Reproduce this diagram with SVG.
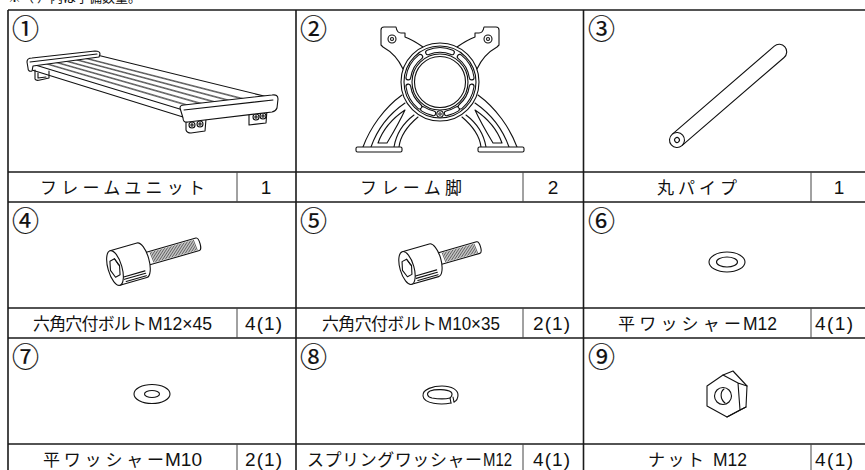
<svg xmlns="http://www.w3.org/2000/svg" width="865" height="470" viewBox="0 0 865 470">
<style>
.bg{fill:#fff}
.grid{stroke:#1a1a1a;stroke-width:1.6;fill:none}
.hgrid{stroke:#1a1a1a;stroke-width:1.4;fill:none}
.qty{stroke:#444;stroke-width:1;fill:none}
.num{font-family:"Noto Sans CJK JP","DejaVu Sans",sans-serif;font-size:27px;fill:#111;stroke:#111;stroke-width:0.2;dominant-baseline:central}
.lbl{font-family:"Noto Sans CJK JP","Noto Sans",sans-serif;font-size:17px;fill:#111}
.lat{font-family:"Liberation Sans","Noto Sans",sans-serif;font-size:19px;fill:#111}
.mid{text-anchor:middle}
.top{font-family:"Noto Sans CJK JP",sans-serif;font-size:13px;fill:#111}
.ln{stroke:#111;stroke-width:1.1;fill:none;stroke-linejoin:round;stroke-linecap:round}
.lw{stroke:#111;stroke-width:1.1;fill:#fff;stroke-linejoin:round}
.th{stroke:#111;stroke-width:0.6;fill:none}
.slotB{stroke:#111;stroke-width:5.8;fill:none;stroke-linecap:round}
.slotW{stroke:#fff;stroke-width:3.6;fill:none;stroke-linecap:round}
</style>
<defs>
<g id="legHalf">
<path class="lw" d="M403,69 C398,58 392,52 383,47 L381,45 L381,30 Q381,27 384,27 L396,27 Q397,33 401,33 L405,33 L405,37 Q413,40 423,47 Z"/>
<circle class="ln" cx="392" cy="39" r="4"/>
<circle class="ln" cx="392" cy="39" r="1.5"/>
<path class="ln" d="M363,147 C370,128 384,108 402,95"/>
<path class="ln" d="M371,147 C377,130 389,114 405,103"/>
<path class="ln" d="M378,143 C383,129 393,118 405,110 C400,121 393,133 387,143 Z"/>
<path class="ln" d="M394,147 C396,135 402,124 414,115"/>
<path class="ln" d="M399,147 C400,138 405,128 418,117"/>
<rect class="lw" x="356" y="147" width="46" height="5" rx="1.5"/>
</g>
</defs>
<rect class="bg" x="0" y="0" width="865" height="470"/>
<text class="top" x="8" y="1.5">※（ ）内は予備数量。</text>

<g id="grid">
<line class="hgrid" x1="8" y1="10" x2="866" y2="10"/>
<line class="hgrid" x1="8" y1="172" x2="866" y2="172"/>
<line class="hgrid" x1="8" y1="202" x2="866" y2="202"/>
<line class="hgrid" x1="8" y1="308" x2="866" y2="308"/>
<line class="hgrid" x1="8" y1="338" x2="866" y2="338"/>
<line class="hgrid" x1="8" y1="444" x2="866" y2="444"/>
<line class="grid" x1="8" y1="10" x2="8" y2="472"/>
<line class="grid" x1="296" y1="10" x2="296" y2="472"/>
<line class="grid" x1="583.5" y1="10" x2="583.5" y2="472"/>
<line class="grid" x1="866" y1="10" x2="866" y2="472"/>
<line class="qty" x1="237" y1="172" x2="237" y2="202"/>
<line class="qty" x1="523" y1="172" x2="523" y2="202"/>
<line class="qty" x1="811" y1="172" x2="811" y2="202"/>
<line class="qty" x1="237" y1="308" x2="237" y2="338"/>
<line class="qty" x1="523" y1="308" x2="523" y2="338"/>
<line class="qty" x1="811" y1="308" x2="811" y2="338"/>
<line class="qty" x1="237" y1="444" x2="237" y2="472"/>
<line class="qty" x1="523" y1="444" x2="523" y2="472"/>
<line class="qty" x1="811" y1="444" x2="811" y2="472"/>
</g>

<g id="item1">
<text class="num" x="12" y="27.5">①</text>
<path class="ln" d="M35,70 L35,79 Q36,81 40,80 L49,78 L49,71"/>
<path class="ln" d="M38,73 L38,78 L46,77"/>
<path class="lw" d="M32,64 L97,55 L268,97 L183,110 Z"/>
<path class="ln" d="M32,64 L32,70 L183,117 L183,110"/>
<path class="th" d="M41.8,62.7 L195.8,108.1 M43.3,62.5 L197.7,107.8"/>
<path class="th" d="M51.5,61.3 L208.5,106.1 M53,61.1 L210.4,105.8"/>
<path class="th" d="M61.3,60 L221.3,104.2 M62.8,59.8 L223.2,103.9"/>
<path class="th" d="M71,58.6 L234,102.2 M72.5,58.4 L235.9,101.9"/>
<path class="th" d="M80.8,57.3 L246.8,100.2 M82.3,57.1 L248.7,99.9"/>
<path class="lw" d="M27,62 Q27,58 32,58 L95,51 Q100,51 100,54 L99,57 L33,66 L32,71 Q28,72 28,68 Z"/>
<path class="ln" d="M30,62 L97,54"/>
<path class="lw" d="M186,118 L186,130 Q187,133 191,133 L205,131 L206,119"/>
<circle class="ln" cx="192" cy="125" r="3"/><circle class="ln" cx="192" cy="125" r="1.1"/>
<circle class="ln" cx="200" cy="124" r="3"/><circle class="ln" cx="200" cy="124" r="1.1"/>
<path class="lw" d="M249,111 L249,125 L266,123 L267,110"/>
<circle class="ln" cx="256" cy="117" r="3"/><circle class="ln" cx="256" cy="117" r="1.1"/>
<circle class="ln" cx="263" cy="116" r="3"/><circle class="ln" cx="263" cy="116" r="1.1"/>
<path class="lw" d="M180,108 Q180,105 184,105 L272,95 Q278,94 278,99 L277,108 Q276,111 272,112 L188,122 Q183,123 183,118 Z"/>
<path class="ln" d="M184,110 L273,100"/>
<text class="lbl mid" x="122.5" y="194" textLength="165" lengthAdjust="spacing">フレームユニット</text>
<text class="lat mid" x="266" y="194">1</text>
</g>

<g id="item2">
<text class="num" x="300" y="27.5">②</text>
<use href="#legHalf"/>
<use href="#legHalf" transform="translate(880,0) scale(-1,1)"/>
<circle class="lw" cx="440" cy="82" r="39"/>
<circle class="ln" cx="440" cy="82" r="36"/>
<path class="slotB" d="M428.01,52.33 A32,32 0 0 1 451.99,52.33 M459.7,56.78 A32,32 0 0 1 471.69,77.55 M471.69,86.45 A32,32 0 0 1 460.57,106.51 M419.43,106.51 A32,32 0 0 1 408.31,86.45 M408.31,77.55 A32,32 0 0 1 420.3,56.78 M456.96,109.14 A32,32 0 0 1 446.65,113.3 M433.35,113.3 A32,32 0 0 1 423.04,109.14"/>
<path class="slotW" d="M428.01,52.33 A32,32 0 0 1 451.99,52.33 M459.7,56.78 A32,32 0 0 1 471.69,77.55 M471.69,86.45 A32,32 0 0 1 460.57,106.51 M419.43,106.51 A32,32 0 0 1 408.31,86.45 M408.31,77.55 A32,32 0 0 1 420.3,56.78 M456.96,109.14 A32,32 0 0 1 446.65,113.3 M433.35,113.3 A32,32 0 0 1 423.04,109.14"/>
<circle class="ln" cx="440" cy="82" r="28"/>
<circle class="ln" cx="440" cy="82" r="25.5"/>
<circle class="lw" cx="440" cy="114" r="3.2"/>
<circle class="ln" cx="440" cy="114" r="1.2"/>
<text class="lbl mid" x="411" y="194" textLength="102" lengthAdjust="spacing">フレーム脚</text>
<text class="lat mid" x="553" y="194">2</text>
</g>

<g id="item3">
<text class="num" x="588" y="27.5">③</text>
<g transform="translate(677,140) rotate(-40.8)">
<path class="lw" d="M0,-7.5 L135,-7.5 A7.5,7.5 0 0 1 135,7.5 L0,7.5"/>
<circle class="lw" cx="0" cy="0" r="7.5"/>
<circle class="ln" cx="0" cy="0" r="2.4"/>
</g>
<text class="lbl mid" x="697" y="194" textLength="80" lengthAdjust="spacing">丸パイプ</text>
<text class="lat mid" x="839" y="194">1</text>
</g>

<g id="item4">
<text class="num" x="12" y="219.5">④</text>
<g transform="translate(115,268) rotate(-16)">
<path class="lw" d="M34.5,-6.5 L86,-6.5 A2.5,6.5 0 0 1 86,6.5 L34.5,6.5"/>
<path class="th" d="M38,-5.5 l1,11 M39.5,-5.5 l1,11 M41,-5.5 l1,11 M42.5,-5.5 l1,11 M44,-5.5 l1,11 M45.5,-5.5 l1,11 M47,-5.5 l1,11 M48.5,-5.5 l1,11 M50,-5.5 l1,11 M51.5,-5.5 l1,11 M53,-5.5 l1,11 M54.5,-5.5 l1,11 M56,-5.5 l1,11 M57.5,-5.5 l1,11 M59,-5.5 l1,11 M60.5,-5.5 l1,11 M62,-5.5 l1,11 M63.5,-5.5 l1,11 M65,-5.5 l1,11 M66.5,-5.5 l1,11 M68,-5.5 l1,11 M69.5,-5.5 l1,11 M71,-5.5 l1,11 M72.5,-5.5 l1,11 M74,-5.5 l1,11 M75.5,-5.5 l1,11 M77,-5.5 l1,11 M78.5,-5.5 l1,11 M80,-5.5 l1,11 M81.5,-5.5 l1,11 M83,-5.5 l1,11"/>
<path class="lw" d="M0,-18 L28,-18 A7,18 0 0 1 28,18 L0,18 Z"/>
<path class="ln" d="M5,11 L28,11 M6,13.5 L28,13.5 M7,16 L28,16"/>
<ellipse class="lw" cx="0" cy="0" rx="7" ry="18"/>
<path class="ln" d="M-3,-8 L2,-9 L5,-1 L3,8 L-2,9 L-5,1 Z"/>
<path class="ln" d="M2,-9 L4,-3 L5,-1"/>
</g>
<text class="lbl" x="33" y="330" textLength="114" lengthAdjust="spacing">六角穴付ボルト</text>
<text class="lat" x="148" y="330" textLength="64" lengthAdjust="spacingAndGlyphs">M12×45</text>
<text class="lat" x="245" y="330" textLength="37" lengthAdjust="spacing">4(1)</text>
</g>

<g id="item5">
<text class="num" x="300" y="219.5">⑤</text>
<g transform="translate(407,268) rotate(-16)">
<path class="lw" d="M34.5,-6 L74,-6 A2.5,6 0 0 1 74,6 L34.5,6"/>
<path class="th" d="M38,-5 l1,10 M39.5,-5 l1,10 M41,-5 l1,10 M42.5,-5 l1,10 M44,-5 l1,10 M45.5,-5 l1,10 M47,-5 l1,10 M48.5,-5 l1,10 M50,-5 l1,10 M51.5,-5 l1,10 M53,-5 l1,10 M54.5,-5 l1,10 M56,-5 l1,10 M57.5,-5 l1,10 M59,-5 l1,10 M60.5,-5 l1,10 M62,-5 l1,10 M63.5,-5 l1,10 M65,-5 l1,10 M66.5,-5 l1,10 M68,-5 l1,10 M69.5,-5 l1,10 M71,-5 l1,10"/>
<path class="lw" d="M0,-17 L28,-17 A7,17 0 0 1 28,17 L0,17 Z"/>
<path class="ln" d="M5,10 L28,10 M6,12.5 L28,12.5 M7,15 L28,15"/>
<ellipse class="lw" cx="0" cy="0" rx="7" ry="17"/>
<path class="ln" d="M-3,-7.5 L2,-8.5 L5,-1 L3,7.5 L-2,8.5 L-5,1 Z"/>
<path class="ln" d="M2,-8.5 L4,-3 L5,-1"/>
</g>
<text class="lbl" x="322" y="330" textLength="115" lengthAdjust="spacing">六角穴付ボルト</text>
<text class="lat" x="438" y="330" textLength="62" lengthAdjust="spacingAndGlyphs">M10×35</text>
<text class="lat" x="533" y="330" textLength="37" lengthAdjust="spacing">2(1)</text>
</g>

<g id="item6">
<text class="num" x="588" y="219.5">⑥</text>
<ellipse class="ln" cx="727" cy="262" rx="18" ry="10"/>
<ellipse class="ln" cx="727" cy="262" rx="10.5" ry="5"/>
<text class="lbl" x="618" y="330" textLength="123" lengthAdjust="spacing">平ワッシャー</text>
<text class="lat" x="743" y="330" textLength="34" lengthAdjust="spacingAndGlyphs">M12</text>
<text class="lat" x="815" y="330" textLength="38" lengthAdjust="spacing">4(1)</text>
</g>

<g id="item7">
<text class="num" x="12" y="355.5">⑦</text>
<ellipse class="ln" cx="152" cy="394" rx="18" ry="9.5"/>
<ellipse class="ln" cx="152" cy="394" rx="7.5" ry="3.5"/>
<text class="lbl" x="43" y="466" textLength="121" lengthAdjust="spacing">平ワッシャー</text>
<text class="lat" x="165" y="466" textLength="37" lengthAdjust="spacingAndGlyphs">M10</text>
<text class="lat" x="245" y="466" textLength="37" lengthAdjust="spacing">2(1)</text>
</g>

<g id="item8">
<text class="num" x="300" y="355.5">⑧</text>
<path class="ln" d="M451,403 C441,405 424,404 423,396 C422,389 434,386 442,386 C452,386 458,390 458,395 C458,399 456,401 454,402"/>
<path class="ln" d="M450,398 C446,399 438,399 432,398 C427,397 426,393 430,391 C435,389 447,389 451,392 C453,394 452,396 450,398"/>
<path class="ln" d="M450,398 L451,403 M453,397 L454,402"/>
<text class="lbl" x="307" y="466" textLength="175" lengthAdjust="spacing">スプリングワッシャー</text>
<text class="lat" x="483" y="466" textLength="29" lengthAdjust="spacingAndGlyphs">M12</text>
<text class="lat" x="533" y="466" textLength="37" lengthAdjust="spacing">4(1)</text>
</g>

<g id="item9">
<text class="num" x="588" y="355.5">⑨</text>
<path class="lw" d="M723,375 L733,371 L747,386 L746,407 L727,417 L707,406 L707,386 Z"/>
<path class="ln" d="M723,375 L738,383 L740,410 L727,417 M738,383 L747,386 M740,410 L746,407"/>
<circle class="ln" cx="723" cy="396" r="8.5"/>
<path class="ln" d="M724,389 C720,392 720,399 725,403"/>
<text class="lbl" x="648" y="466" textLength="56" lengthAdjust="spacing">ナット</text>
<text class="lat" x="713" y="466" textLength="34" lengthAdjust="spacingAndGlyphs">M12</text>
<text class="lat" x="815" y="466" textLength="38" lengthAdjust="spacing">4(1)</text>
</g>
</svg>
